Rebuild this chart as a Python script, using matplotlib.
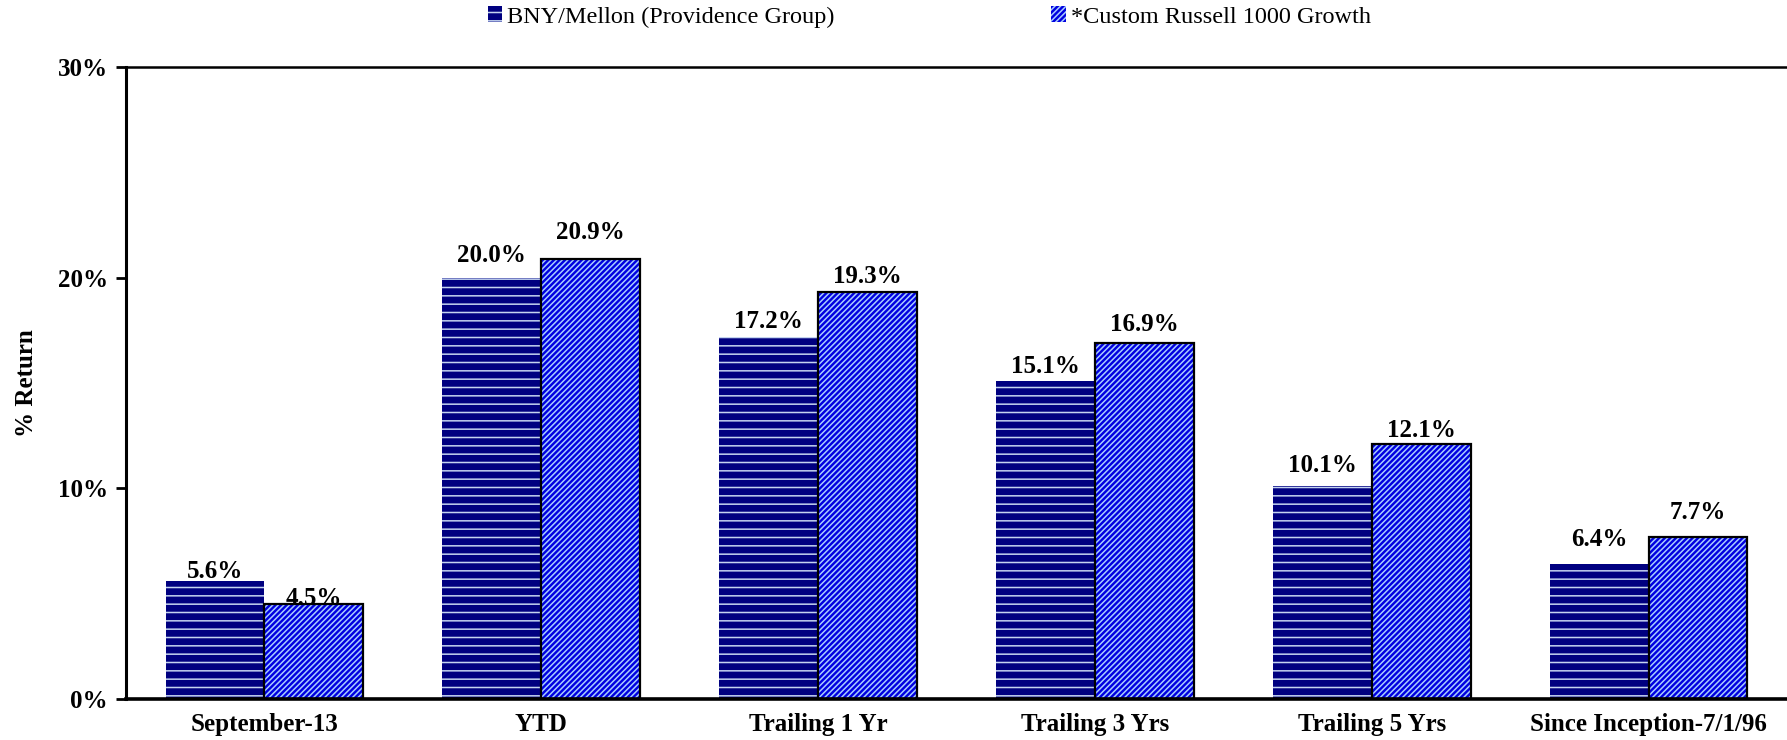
import matplotlib.pyplot as plt
import numpy as np

periods = ["September-13", "YTD", "Trailing 1 Yr", "Trailing 3 Yrs",
           "Trailing 5 Yrs", "Since Inception-7/1/96"]
bny = [5.6, 20.0, 17.2, 15.1, 10.1, 6.4]
russell = [4.5, 20.9, 19.3, 16.9, 12.1, 7.7]

# how far each value label sits above its bar, in points
bny_offsets = [7, 15.6, 10.7, 10.7, 14.8, 18]
russell_offsets = [4, 19, 11.5, 13, 9.8, 17.2]

plt.rcParams['font.family'] = ['Liberation Serif', 'DejaVu Serif']
plt.rcParams['hatch.linewidth'] = 1.1

fig = plt.figure(figsize=(17.87, 7.40), dpi=100)
ax = fig.add_axes([126 / 1787, 1 - 699 / 740, 1 - 126 / 1787, (699 - 67) / 740])

x = np.arange(len(periods))
w = 0.357

b1 = ax.bar(x - w / 2, bny, w, color="#000080", edgecolor="#c4d4f0",
            linewidth=0, hatch="--", label="BNY/Mellon (Providence Group)")
b2 = ax.bar(x + w / 2, russell, w, color="#0000e0", edgecolor="#a8ccff",
            linewidth=0, hatch="//////", label="*Custom Russell 1000 Growth")
ax.bar(x + w / 2, russell, w, fill=False, edgecolor="black", linewidth=1.6)

for xi, v, off in zip(x - w / 2, bny, bny_offsets):
    ax.annotate(f"{v:.1f}%", (xi, v), xytext=(0, off), textcoords="offset points",
                ha="center", va="center", fontsize=18, fontweight="bold")
for xi, v, off in zip(x + w / 2, russell, russell_offsets):
    ax.annotate(f"{v:.1f}%", (xi, v), xytext=(0, off), textcoords="offset points",
                ha="center", va="center", fontsize=18, fontweight="bold")

ax.set_xlim(-0.5, 5.5)
ax.set_ylim(0, 30)
ax.set_yticks([0, 10, 20, 30])
ax.set_yticklabels(["0%", "10%", "20%", "30%"], fontsize=18, fontweight="bold")
ax.set_xticks(x)
ax.set_xticklabels(periods, fontsize=18, fontweight="bold")
ax.tick_params(axis="x", length=0, pad=10)
ax.tick_params(axis="y", length=7, width=2, pad=6)
ax.set_ylabel("% Return", fontsize=18, fontweight="bold", labelpad=14)

ax.spines["left"].set_linewidth(2.2)
ax.spines["bottom"].set_linewidth(2.6)
ax.spines["top"].set_linewidth(1.8)
ax.spines["right"].set_visible(False)

fig.legend(handles=[b1, b2], loc="center", bbox_to_anchor=(0.52, 1 - 17 / 740),
           ncol=2, frameon=False, fontsize=17.5, handlelength=0.6, handleheight=0.6,
           handletextpad=0.2, columnspacing=8.9)

fig.savefig("out.png", dpi=100)
